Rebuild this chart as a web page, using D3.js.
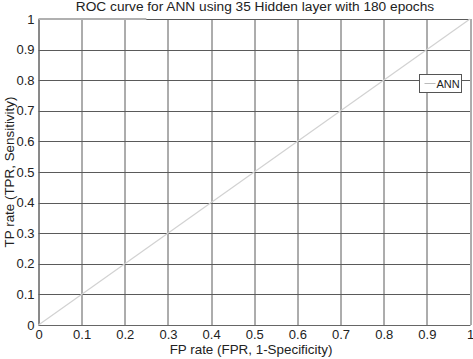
<!DOCTYPE html>
<html>
<head>
<meta charset="utf-8">
<script src="https://cdn.jsdelivr.net/npm/d3@7"></script>
<style>
  body { margin: 0; background: #fff; }
  text { font-family: "Liberation Sans", Arial, sans-serif; fill: #222; }
</style>
</head>
<body>
<div id="chart"></div>
<script>
// tick values for both axes
var xTicks = [0, 0.1, 0.2, 0.3, 0.4, 0.5, 0.6, 0.7, 0.8, 0.9, 1];
var yTicks = [0, 0.1, 0.2, 0.3, 0.4, 0.5, 0.6, 0.7, 0.8, 0.9, 1];

// ANN ROC series (FPR, TPR)
var annFpr = [0, 1];
var annTpr = [0, 1];

// bright segment along the top edge
var topFpr = [0, 0.25];
var topTpr = [1, 1];

var svgWidth = 473;
var svgHeight = 359;
var margin = { top: 19, right: 3, bottom: 34, left: 38.5 };
var width = svgWidth - margin.left - margin.right;
var height = svgHeight - margin.top - margin.bottom;

var svg = d3.select("#chart")
  .append("svg")
  .attr("width", svgWidth)
  .attr("height", svgHeight);

var chartGroup = svg.append("g")
  .attr("transform", `translate(${margin.left}, ${margin.top})`);

var xScale = d3.scaleLinear().domain([0, 1]).range([0, width]);
var yScale = d3.scaleLinear().domain([0, 1]).range([height, 0]);

// grid
chartGroup.append("g")
  .selectAll("line")
  .data(xTicks)
  .enter()
  .append("line")
  .attr("x1", d => Math.round(xScale(d)) + 0.5)
  .attr("x2", d => Math.round(xScale(d)) + 0.5)
  .attr("y1", 0)
  .attr("y2", height)
  .attr("stroke", "#5a5a5a")
  .attr("stroke-width", 1);

chartGroup.append("g")
  .selectAll("line")
  .data(yTicks)
  .enter()
  .append("line")
  .attr("x1", 0)
  .attr("x2", width)
  .attr("y1", d => Math.round(yScale(d)) + 0.5)
  .attr("y2", d => Math.round(yScale(d)) + 0.5)
  .attr("stroke", "#5a5a5a")
  .attr("stroke-width", 1);

// axes
var fmt = d => d === 0 ? "0" : d === 1 ? "1" : d3.format(".1f")(d);

var xAxis = d3.axisBottom(xScale).tickValues(xTicks).tickFormat(fmt).tickSize(0).tickPadding(5);
var yAxis = d3.axisLeft(yScale).tickValues(yTicks).tickFormat(fmt).tickSize(0).tickPadding(4);

var gx = chartGroup.append("g")
  .attr("transform", `translate(0, ${height})`)
  .call(xAxis);
var gy = chartGroup.append("g").call(yAxis);

[gx, gy].forEach(function(g) {
  g.select(".domain").attr("stroke", "#666");
  g.selectAll("text")
    .style("font-family", "Liberation Sans, Arial, sans-serif")
    .style("font-size", "13px")
    .attr("fill", "#1a1a1a");
});

// ROC line
var line = d3.line()
  .x(d => xScale(d[0]))
  .y(d => yScale(d[1]));

chartGroup.append("path")
  .datum(d3.zip(annFpr, annTpr))
  .attr("d", line)
  .attr("fill", "none")
  .attr("stroke", "#d2d2d2")
  .attr("stroke-width", 1.2);

chartGroup.append("path")
  .datum(d3.zip(topFpr, topTpr))
  .attr("d", line)
  .attr("fill", "none")
  .attr("stroke", "#b0b0b0")
  .attr("stroke-width", 2);

// title and labels
svg.append("text")
  .attr("x", 255)
  .attr("y", 11)
  .attr("text-anchor", "middle")
  .style("font-size", "13.7px")
  .text("ROC curve for ANN using 35 Hidden layer with 180 epochs");

svg.append("text")
  .attr("x", 251)
  .attr("y", 354)
  .attr("text-anchor", "middle")
  .style("font-size", "13.4px")
  .text("FP rate (FPR, 1-Specificity)");

svg.append("text")
  .attr("transform", "translate(14, 172) rotate(-90)")
  .attr("text-anchor", "middle")
  .style("font-size", "13.4px")
  .text("TP rate (TPR, Sensitivity)");

// legend
var legend = svg.append("g").attr("transform", "translate(419.5, 74.5)");
legend.append("rect")
  .attr("width", 42)
  .attr("height", 18)
  .attr("fill", "#fff")
  .attr("stroke", "#555");
legend.append("line")
  .attr("x1", 5).attr("x2", 16)
  .attr("y1", 9).attr("y2", 9)
  .attr("stroke", "#bbb");
legend.append("text")
  .attr("x", 17)
  .attr("y", 13)
  .style("font-size", "11px")
  .text("ANN");
</script>
</body>
</html>
